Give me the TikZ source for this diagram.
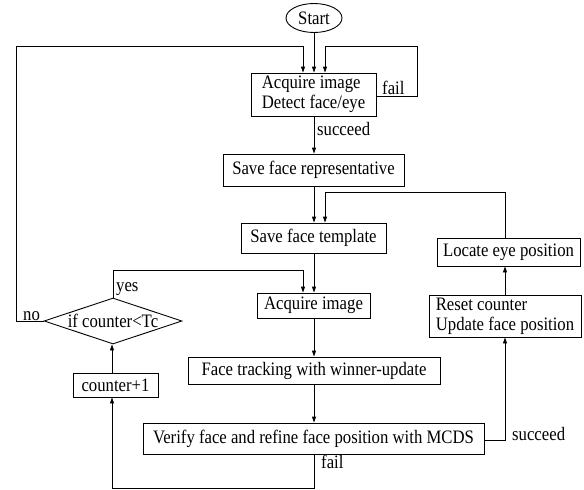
\documentclass[tikz,border=0pt]{standalone}
\usepackage{fontspec}
\setmainfont[FakeStretch=0.88]{Liberation Serif}
\usetikzlibrary{shapes.geometric,arrows.meta}
\begin{document}
\begin{tikzpicture}[x=1pt,y=-1pt,
  every node/.style={font=\fontsize{19pt}{20pt}\selectfont},
  box/.style={draw,line width=0.9pt,inner sep=0pt,align=left},
  lbl/.style={inner sep=0pt,anchor=base west},
  conn/.style={line width=0.9pt,-{Triangle[length=6pt,width=4pt]}},
  plain/.style={line width=0.9pt}]
\useasboundingbox (0,0) rectangle (584,490);
\node[draw,ellipse,line width=0.9pt,inner sep=0pt,minimum width=56pt,minimum height=29pt] (start) at (314,18) {Start};
\node[box,minimum width=125pt,minimum height=43pt] (b1) at (313.5,94.5) {Acquire image\\Detect face/eye};
\node[box,minimum width=181pt,minimum height=32pt] (b2) at (313.5,170) {Save face representative};
\node[box,minimum width=145pt,minimum height=30pt] (b3) at (313.5,238) {Save face template};
\node[box,minimum width=143pt,minimum height=28pt] (loc) at (508.5,252) {Locate eye position};
\node[box,minimum width=152pt,minimum height=42pt] (reset) at (505,316) {Reset counter\\Update face position};
\node[box,minimum width=113pt,minimum height=25pt] (acq) at (313.5,305.5) {Acquire image};
\node[box,minimum width=252pt,minimum height=27pt] (track) at (314,370.5) {Face tracking with winner-update};
\node[box,minimum width=341pt,minimum height=31pt] (ver) at (313.5,438.5) {Verify face and refine face position with MCDS};
\node[draw,diamond,aspect=3,line width=0.9pt,inner sep=-3pt,minimum width=138pt,minimum height=46pt] (dia) at (113,321) {if counter<Tc};
\node[box,minimum width=85pt,minimum height=24pt] (cnt) at (115.5,385) {counter+1};
% labels
\node[lbl] (lfail1) at (382,94.3) {fail};
\node[lbl] (lsucc1) at (317,135) {succeed};
\node[lbl] (lyes) at (116,291) {yes};
\node[lbl] (lno) at (23,320.5) {no};
\node[lbl] (lsucc2) at (512,440) {succeed};
\node[lbl] (lfail2) at (321,468.3) {fail};
% coordinates
\coordinate (nlA) at (16,46.7);
\coordinate (nlB) at (303,46.7);
\coordinate (flA) at (417,96.3);
\coordinate (flB) at (417,46.7);
\coordinate (flC) at (325,46.7);
\coordinate (llA) at (505,192);
\coordinate (llB) at (325,192);
\coordinate (ylA) at (112,270);
\coordinate (ylB) at (303,270);
\coordinate (slA) at (505,440);
\coordinate (fbA) at (314,488);
\coordinate (fbB) at (112,488);
% connectors
\draw[conn] (start.south) -- (start.south |- b1.north);
\draw[conn] (dia.west) -| (nlA) -- (nlB) -- (nlB |- b1.north);
\draw[conn] (b1.east |- flA) -- (flA) -- (flB) -- (flC) -- (flC |- b1.north);
\draw[conn] (314,0 |- b1.south) -- (314,0 |- b2.north);
\draw[conn] (314,0 |- b2.south) -- (314,0 |- b3.north);
\draw[conn] (llA |- loc.north) -- (llA) -- (llB) -- (llB |- b3.north);
\draw[conn] (314,0 |- b3.south) -- (314,0 |- acq.north);
\draw[conn] (dia.north) -- (dia.north |- ylA) -- (ylB) -- (ylB |- acq.north);
\draw[conn] (314,0 |- acq.south) -- (314,0 |- track.north);
\draw[conn] (314,0 |- track.south) -- (314,0 |- ver.north);
\draw[conn] (ver.east |- slA) -- (slA) -- (slA |- reset.south);
\draw[conn] (505,0 |- reset.north) -- (505,0 |- loc.south);
\draw[conn] (fbA |- ver.south) -- (fbA) -- (fbB) -- (fbB |- cnt.south);
\draw[conn] (112,0 |- cnt.north) -- (112,0 |- dia.south);
\end{tikzpicture}
\end{document}
